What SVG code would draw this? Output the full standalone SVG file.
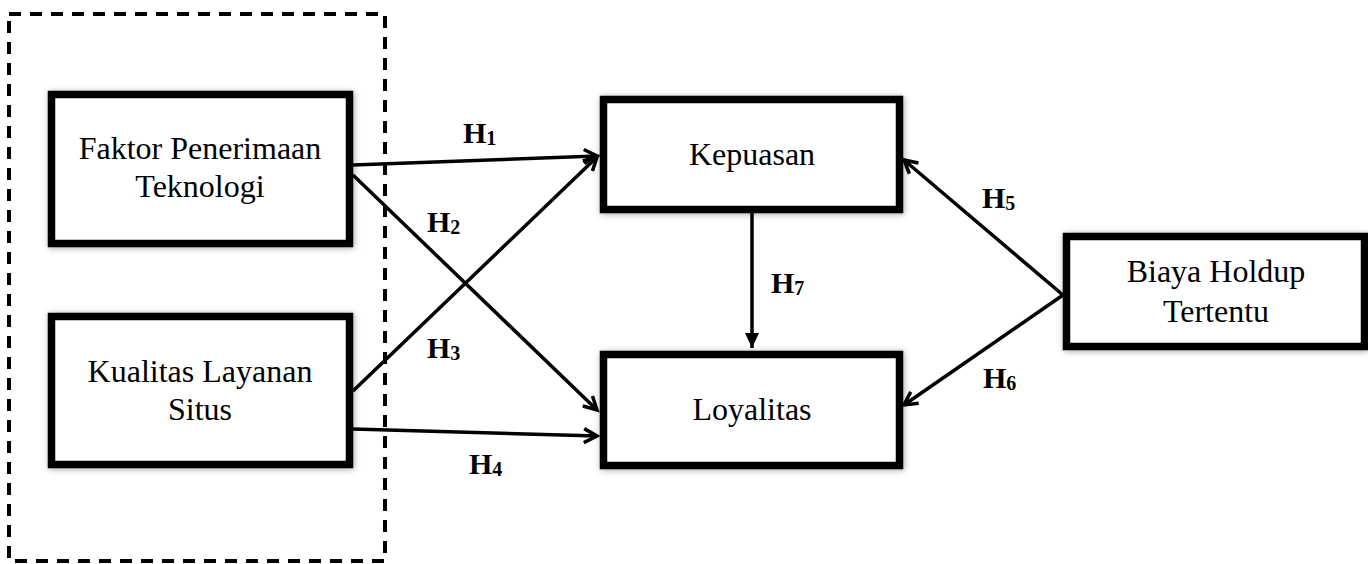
<svg xmlns="http://www.w3.org/2000/svg" width="1368" height="564" viewBox="0 0 1368 564">
<style>
.box{fill:#fff;stroke:#000;stroke-width:7.5;filter:url(#sh)}
.lbl{font-family:"Liberation Serif","Times New Roman",serif;font-size:32px;fill:#000;text-anchor:middle}
.h{font-family:"Liberation Serif","Times New Roman",serif;font-size:30px;font-weight:bold;fill:#000}
.sub{font-size:20px}
.con{stroke:#000;stroke-width:3.5;fill:none}
</style>
<defs>
<filter id="sh" x="-10%" y="-10%" width="120%" height="120%">
<feDropShadow dx="1" dy="1" stdDeviation="3" flood-color="#000" flood-opacity="0.35"/>
</filter>
<marker id="open" markerUnits="userSpaceOnUse" markerWidth="20" markerHeight="20" viewBox="-16 -10 20 20" refX="0" refY="0" orient="auto">
<path d="M-13,-7 L0,0 L-13,7" fill="none" stroke="#000" stroke-width="3.5"/>
</marker>
<marker id="fill" markerUnits="userSpaceOnUse" markerWidth="20" markerHeight="20" viewBox="-16 -10 20 20" refX="0" refY="0" orient="auto">
<path d="M-15,-7 L0,0 L-15,7 Z" fill="#000"/>
</marker>
</defs>
<rect x="9" y="14" width="376" height="547" fill="none" stroke="#000" stroke-width="4" stroke-dasharray="12 9"/>
<g id="connectors">
<line class="con" x1="353" y1="165" x2="597" y2="156" marker-end="url(#open)"/>
<line class="con" x1="353" y1="175" x2="597" y2="410" marker-end="url(#open)"/>
<line class="con" x1="353" y1="391" x2="597" y2="157" marker-end="url(#open)"/>
<line class="con" x1="353" y1="429" x2="597" y2="436" marker-end="url(#open)"/>
<line class="con" x1="752" y1="213" x2="752" y2="348" marker-end="url(#fill)"/>
<line class="con" x1="1063" y1="295" x2="904" y2="160" marker-end="url(#open)"/>
<line class="con" x1="1063" y1="295" x2="904" y2="405" marker-end="url(#open)"/>
<text class="h" x="463" y="143">H<tspan class="sub" dy="2">1</tspan></text>
<text class="h" x="427" y="232">H<tspan class="sub" dy="2">2</tspan></text>
<text class="h" x="427" y="358">H<tspan class="sub" dy="2">3</tspan></text>
<text class="h" x="469" y="474">H<tspan class="sub" dy="2">4</tspan></text>
<text class="h" x="982" y="208">H<tspan class="sub" dy="2">5</tspan></text>
<text class="h" x="983" y="388">H<tspan class="sub" dy="2">6</tspan></text>
<text class="h" x="771" y="293">H<tspan class="sub" dy="2">7</tspan></text>
</g>
<g id="faktor">
<rect class="box" x="51.5" y="94.5" width="298" height="149"/>
<text class="lbl" x="200" y="159">Faktor Penerimaan</text>
<text class="lbl" x="200" y="197">Teknologi</text>
</g>
<g id="kualitas">
<rect class="box" x="51.5" y="316.5" width="298" height="148"/>
<text class="lbl" x="200" y="382">Kualitas Layanan</text>
<text class="lbl" x="200" y="420">Situs</text>
</g>
<g id="kepuasan">
<rect class="box" x="603.5" y="99.5" width="296" height="110"/>
<text class="lbl" x="752" y="165">Kepuasan</text>
</g>
<g id="loyalitas">
<rect class="box" x="603.5" y="354.5" width="296" height="111"/>
<text class="lbl" x="752" y="420">Loyalitas</text>
</g>
<g id="biaya">
<rect class="box" x="1066.5" y="236.5" width="298" height="110"/>
<text class="lbl" x="1216" y="282">Biaya Holdup</text>
<text class="lbl" x="1216" y="322">Tertentu</text>
</g>
</svg>
